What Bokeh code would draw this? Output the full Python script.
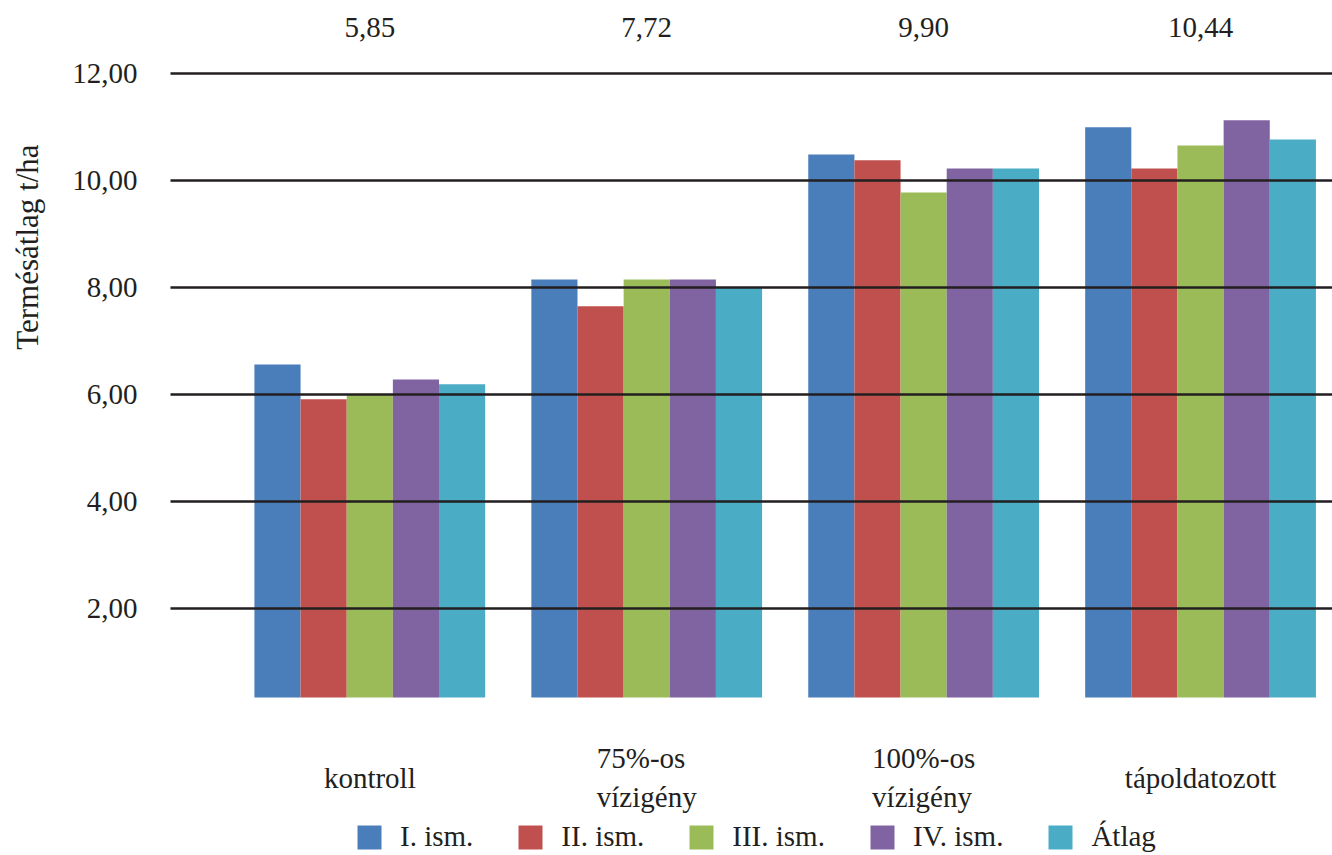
import numpy as np
from bokeh.plotting import figure
from bokeh.models import (Range1d, FixedTicker, Legend, LegendItem, Title,
                          LabelSet, ColumnDataSource)
from bokeh.core.properties import value
from bokeh.embed import file_html
from bokeh.resources import INLINE

# ---- data ----
categories = ["kontroll", "75%-os\nvízigény", "100%-os\nvízigény", "tápoldatozott"]
top_labels = ["5,85", "7,72", "9,90", "10,44"]
series_names = ["I. ism.", "II. ism.", "III. ism.", "IV. ism.", "Átlag"]
ism_1 = [6.56, 8.15, 10.49, 11.00]
ism_2 = [5.91, 7.65, 10.38, 10.23]
ism_3 = [5.99, 8.15, 9.78, 10.66]
ism_4 = [6.28, 8.15, 10.23, 11.13]
atlag = [6.19, 8.00, 10.23, 10.77]
y_ticks = [2, 4, 6, 8, 10, 12]
y_tick_labels = ["2,00", "4,00", "6,00", "8,00", "10,00", "12,00"]
y_title = "Termésátlag t/ha"

# ---- style / layout ----
colors = ["#4A7EBB", "#C0504D", "#9BBB59", "#8064A2", "#4BACC6"]
FONT = "Liberation Serif"
TXT = "#231f20"
FS = "29px"
BASE = 0.331          # value axis minimum where the bars start
Y_TOP = 12.024
Y_BOTTOM = -2.625     # frame continues below the bars for the category texts
CAT_Y = -1.166

series = [ism_1, ism_2, ism_3, ism_4, atlag]
n_cat = len(categories)
idx = np.arange(n_cat)
bar_w = 1.0 / 6.0

p = figure(width=1332, height=855, output_backend="svg", toolbar_location=None,
           x_range=Range1d(-0.7197, 3.4765), y_range=Range1d(Y_BOTTOM, Y_TOP),
           x_axis_location="above", min_border_left=170, min_border_right=0,
           min_border_top=72, min_border_bottom=0)
p.outline_line_color = None
p.background_fill_color = "white"
p.border_fill_color = "white"

renderers = []
for j, vals in enumerate(series):
    src = ColumnDataSource(dict(x=idx + (j - 2) * bar_w, top=vals))
    r = p.vbar(x="x", top="top", bottom=BASE, width=bar_w, source=src,
               fill_color=colors[j], line_color=None)
    renderers.append(r)

# y axis
ya = p.yaxis[0]
ya.ticker = FixedTicker(ticks=y_ticks)
ya.major_label_overrides = {t: lab for t, lab in zip(y_ticks, y_tick_labels)}
ya.axis_line_color = None
ya.major_tick_line_color = None
ya.minor_tick_line_color = None
ya.major_tick_out = 0
ya.major_tick_in = 0
ya.major_label_text_font = FONT
ya.major_label_text_font_size = FS
ya.major_label_text_color = TXT
ya.major_label_standoff = 33

# y title as a side title, shifted along the axis to where the reference has it
p.add_layout(Title(text=y_title, align="right", offset=72, standoff=0,
                   padding=dict(left=0, right=0, top=0, bottom=25),
                   text_font=FONT, text_font_size="31px", text_font_style="normal",
                   text_color=TXT), "left")

# top axis with the labels above the groups
xa = p.xaxis[0]
xa.ticker = FixedTicker(ticks=list(idx))
xa.major_label_overrides = {int(i): lab for i, lab in zip(idx, top_labels)}
xa.axis_line_color = None
xa.major_tick_line_color = None
xa.minor_tick_line_color = None
xa.major_tick_out = 0
xa.major_tick_in = 0
xa.major_label_text_font = FONT
xa.major_label_text_font_size = FS
xa.major_label_text_color = TXT
xa.major_label_text_baseline = "bottom"
xa.major_label_standoff = 36

# grid
p.xgrid.visible = False
p.ygrid.ticker = FixedTicker(ticks=y_ticks)
p.ygrid.grid_line_color = TXT
p.ygrid.grid_line_width = 2.5
p.ygrid.level = "overlay"

# category labels under the bars
cat_src = ColumnDataSource(dict(x=idx, y=[CAT_Y] * n_cat, text=categories))
cats = LabelSet(x="x", y="y", text="text", source=cat_src,
                text_font=value(FONT), text_font_size=FS, text_color=TXT,
                text_align="center", text_baseline="middle",
                text_line_height=1.2)
p.add_layout(cats)

legend = Legend(items=[LegendItem(label=n, renderers=[r]) for n, r in zip(series_names, renderers)],
                orientation="horizontal", location=(184, 2),
                glyph_width=30, glyph_height=30, label_standoff=16, spacing=42,
                padding=0, margin=0, border_line_color=None, background_fill_alpha=0,
                label_text_font=FONT, label_text_font_size=FS, label_text_color=TXT)
p.add_layout(legend)

open("out.html", "w").write(file_html(p, INLINE))
